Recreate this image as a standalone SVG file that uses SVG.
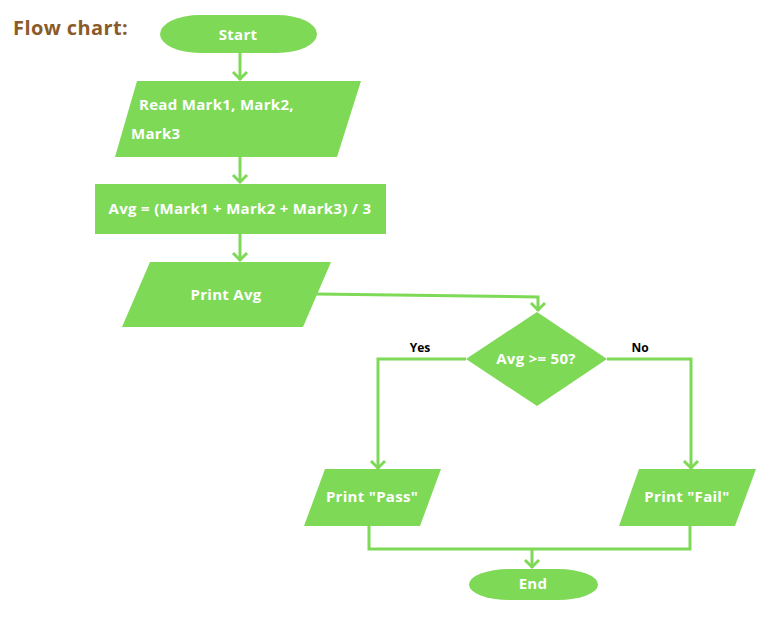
<svg xmlns="http://www.w3.org/2000/svg" width="779" height="617" viewBox="0 0 779 617">
<style>
.shape{fill:#7ED957;}
.t{font-family:"Open Sans","Liberation Sans",sans-serif;font-weight:bold;font-size:15px;letter-spacing:0.3px;fill:#ffffff;}
.lbl{font-family:"Open Sans","Liberation Sans",sans-serif;font-weight:bold;font-size:12px;fill:#000000;}
.title{font-family:"Open Sans","Liberation Sans",sans-serif;font-weight:bold;font-size:20px;letter-spacing:0.4px;fill:#8B5A2B;}
.c{fill:none;stroke:#7ED957;stroke-width:3;}
</style>
<rect width="779" height="617" fill="#ffffff"/>
<text class="title" x="13" y="35">Flow chart:</text>
<g id="connectors">
<path class="c" d="M240 53 V80"/>
<path class="c" d="M233 72 L240 79 L247 72"/>
<path class="c" d="M240 157 V183"/>
<path class="c" d="M233 175 L240 182 L247 175"/>
<path class="c" d="M240 234 V261"/>
<path class="c" d="M233 253 L240 260 L247 253"/>
<path class="c" d="M316 294 L538 297 V311"/>
<path class="c" d="M531 303 L538 310 L545 303"/>
<path class="c" d="M466 359 H378 V469"/>
<path class="c" d="M371 461 L378 468 L385 461"/>
<path class="c" d="M607 359 H691 V469"/>
<path class="c" d="M684 461 L691 468 L698 461"/>
<path class="c" d="M369 526 V549 H690 V526"/>
<path class="c" d="M532 549 V568"/>
<path class="c" d="M525 560 L532 567 L539 560"/>
</g>
<g id="start">
<rect class="shape" x="160" y="15" width="157" height="38" rx="40" ry="19"/>
<text class="t" x="238" y="40" text-anchor="middle">Start</text>
</g>
<g id="read">
<polygon class="shape" points="137,81 361,81 337,157 115,157"/>
<text class="t" x="139" y="110">Read Mark1, Mark2,</text>
<text class="t" x="131" y="139">Mark3</text>
</g>
<g id="avg">
<rect class="shape" x="95" y="184" width="291" height="50"/>
<text class="t" x="240" y="214" text-anchor="middle">Avg = (Mark1 + Mark2 + Mark3) / 3</text>
</g>
<g id="printavg">
<polygon class="shape" points="150,262 331,262 303,327 122,327"/>
<text class="t" x="226" y="300" text-anchor="middle">Print Avg</text>
</g>
<g id="decision">
<polygon class="shape" points="537,312 607,359 537,406 466,359"/>
<text class="t" x="536" y="364" text-anchor="middle">Avg &gt;= 50?</text>
<text class="lbl" x="420" y="352" text-anchor="middle">Yes</text>
<text class="lbl" x="640" y="352" text-anchor="middle">No</text>
</g>
<g id="pass">
<polygon class="shape" points="325,469 441,469 420,526 304,526"/>
<text class="t" x="372" y="502" text-anchor="middle">Print "Pass"</text>
</g>
<g id="fail">
<polygon class="shape" points="639,469 756,469 735,526 619,526"/>
<text class="t" x="687" y="502" text-anchor="middle">Print "Fail"</text>
</g>
<g id="end">
<rect class="shape" x="469" y="569" width="129" height="31" rx="40" ry="15.5"/>
<text class="t" x="533" y="589" text-anchor="middle">End</text>
</g>
</svg>
